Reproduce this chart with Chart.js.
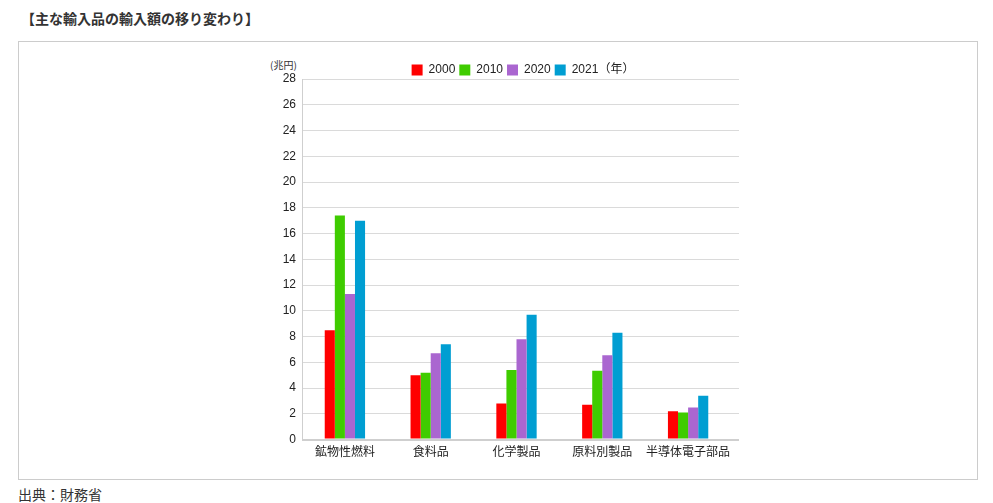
<!DOCTYPE html>
<html>
<head>
<meta charset="utf-8">
<script src="https://cdn.jsdelivr.net/npm/chart.js@4"></script>
<style>
  body { margin: 0; background: #fff; font-family: "Noto Sans CJK JP", sans-serif; color: #333; }
  #title { position: absolute; left: 21px; top: 8px; font-size: 14px; font-weight: bold; }
  #frame { position: absolute; left: 18px; top: 41px; width: 958px; height: 437px; border: 1px solid #ccc; }
  #unit { position: absolute; left: 270px; top: 60px; font-size: 10px; line-height: 10px; color: #333; }
  #wrap { position: absolute; left: 250px; top: 60px; width: 530px; height: 406px; }
  #source { position: absolute; left: 18px; top: 484px; font-size: 14px; }
</style>
</head>
<body>
<div id="title">【主な輸入品の輸入額の移り変わり】</div>
<div id="frame"></div>
<div id="unit">(兆円)</div>
<div id="wrap"><canvas id="importChart"></canvas></div>
<div id="source">出典：財務省</div>
<script>
const categories = ["鉱物性燃料", "食料品", "化学製品", "原料別製品", "半導体電子部品"];
const years = ["2000", "2010", "2020", "2021（年）"];
const values2000 = [8.5, 5.0, 2.8, 2.7, 2.2];
const values2010 = [17.4, 5.2, 5.4, 5.35, 2.1];
const values2020 = [11.3, 6.7, 7.8, 6.55, 2.5];
const values2021 = [17.0, 7.4, 9.7, 8.3, 3.4];
const colors = ["#ff0000", "#3fcc00", "#aa66d0", "#009ed2"];

const fontFamily = '"Liberation Sans", "Noto Sans CJK JP", sans-serif';

const ctx = document.getElementById("importChart").getContext("2d");

const seriesList = [values2000, values2010, values2020, values2021];

// legend centred a bit right of the plot, and the category axis a little
// shorter than the grid lines (as in the original)
const layoutTweaks = {
  id: "layoutTweaks",
  afterLayout(chart) {
    if (chart.legend) {
      chart.legend.left = 0;
      chart.legend.right = chart.width + 16;
    }
    const x = chart.scales.x;
    x.right = x.right - 8;
    x.width = x.right - x.left;
    x.configure();
  },
};

new Chart(ctx, {
  type: "bar",
  data: {
    labels: categories,
    datasets: seriesList.map((vals, i) => ({
      label: years[i],
      data: vals,
      backgroundColor: colors[i],
      borderWidth: 0,
      barPercentage: 1,
      categoryPercentage: 0.47,
    })),
  },
  options: {
    responsive: true,
    maintainAspectRatio: false,
    animation: false,
    layout: { padding: { right: 41 } },
    plugins: {
      tooltip: { enabled: false },
      legend: {
        position: "top",
        maxHeight: 19,
        labels: {
          boxWidth: 11,
          boxHeight: 11,
          padding: 4,
          color: "#222",
          font: { size: 12, family: fontFamily },
        },
      },
    },
    scales: {
      x: {
        grid: { display: false, drawTicks: false },
        border: { display: false },
        ticks: {
          padding: 6,
          maxRotation: 0,
          autoSkip: false,
          color: "#222",
          font: { size: 12, family: fontFamily },
        },
      },
      y: {
        min: 0,
        max: 28,
        afterFit: (scale) => { scale.width = 52; },
        grid: {
          color: (c) => (c.tick && c.tick.value === 0 ? "#cfcfcf" : "#dadada"),
          lineWidth: (c) => (c.tick && c.tick.value === 0 ? 2 : 1),
          drawTicks: false,
        },
        border: { color: "#cfcfcf", width: 1 },
        ticks: { stepSize: 2, padding: 6, color: "#222", font: { size: 12, family: fontFamily } },
      },
    },
  },
  plugins: [layoutTweaks],
});
</script>
</body>
</html>
